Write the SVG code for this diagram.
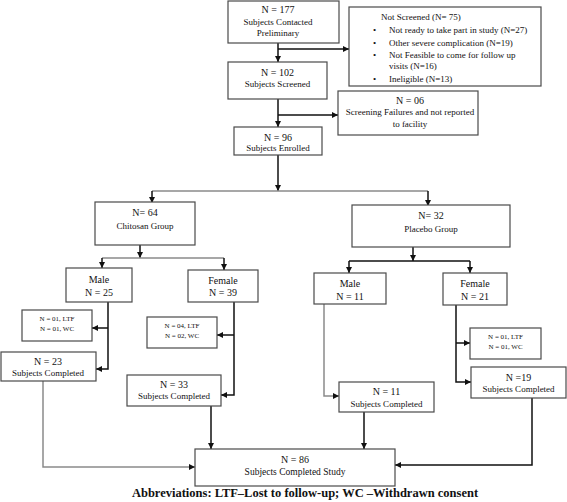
<svg xmlns="http://www.w3.org/2000/svg" width="567" height="502" viewBox="0 0 567 502">
<style>
.box{fill:#fff;stroke:#4a4a4a;stroke-width:1.2}
text{font-family:"Liberation Serif","Times New Roman",serif;fill:#111;text-anchor:middle}
.n{font-size:10px}
.s{font-size:9px}
.t{font-size:7px}
.l{text-anchor:start;font-size:9px}
.c{fill:none;stroke:#111;stroke-width:1.5}
.g{fill:none;stroke:#8a8a8a;stroke-width:1.5}
.ab{font-size:12.5px;font-weight:bold}
</style>
<defs>
<marker id="ah" markerUnits="userSpaceOnUse" markerWidth="7" markerHeight="7" refX="6" refY="3" orient="auto">
<path d="M0,0 L6,3 L0,6 z" fill="#111"/>
</marker>
</defs>
<g id="connectors">
<path class="c" d="M278,43 V62" marker-end="url(#ah)"/>
<path class="c" d="M278,49 H349" marker-end="url(#ah)"/>
<path class="c" d="M278,99 V127" marker-end="url(#ah)"/>
<path class="c" d="M278,115 H338" marker-end="url(#ah)"/>
<path class="c" d="M278,155 V191" marker-end="url(#ah)"/>
<path class="g" d="M152,191 H428"/>
<path class="c" d="M152,191 V203" marker-end="url(#ah)"/>
<path class="c" d="M428,191 V206" marker-end="url(#ah)"/>
<path class="c" d="M140,245 V258" marker-end="url(#ah)"/>
<path class="g" d="M102,258 H224"/>
<path class="c" d="M102,258 V268" marker-end="url(#ah)"/>
<path class="c" d="M224,258 V270" marker-end="url(#ah)"/>
<path class="c" d="M413,247 V261" marker-end="url(#ah)"/>
<path class="c" d="M349,261 H470"/>
<path class="c" d="M349,261 V273" marker-end="url(#ah)"/>
<path class="c" d="M470,261 V273" marker-end="url(#ah)"/>
<path class="c" d="M108,302 V369 H96" marker-end="url(#ah)"/>
<path class="c" d="M108,328 H92" marker-end="url(#ah)"/>
<path class="c" d="M234,302 V395 H221" marker-end="url(#ah)"/>
<path class="c" d="M234,335 H217" marker-end="url(#ah)"/>
<path class="g" d="M324,304 V396 H339" marker-end="url(#ah)"/>
<path class="c" d="M456,305 V382 H471" marker-end="url(#ah)"/>
<path class="c" d="M456,343 H470" marker-end="url(#ah)"/>
<path class="g" d="M43,381 V467 H195" marker-end="url(#ah)"/>
<path class="c" d="M211,406 V449" marker-end="url(#ah)"/>
<path class="c" d="M364,412 V449" marker-end="url(#ah)"/>
<path class="c" d="M532,398 V465 H395" marker-end="url(#ah)"/>
</g>
<g id="contacted">
<rect class="box" x="228" y="1" width="111" height="42"/>
<text class="n" x="278" y="12.5">N = 177</text>
<text class="s" x="278" y="24.5">Subjects Contacted</text>
<text class="s" x="278" y="36">Preliminary</text>
</g>
<g id="not-screened">
<rect class="box" x="349" y="7" width="192" height="79"/>
<text class="l" x="381" y="20">Not Screened (N= 75)</text>
<text class="l" x="373" y="33">•</text>
<text class="l" x="389" y="33">Not ready to take part in study (N=27)</text>
<text class="l" x="373" y="46">•</text>
<text class="l" x="389" y="46">Other severe complication (N=19)</text>
<text class="l" x="373" y="58">•</text>
<text class="l" x="389" y="58">Not Feasible to come for follow up</text>
<text class="l" x="389" y="69">visits (N=16)</text>
<text class="l" x="373" y="82">•</text>
<text class="l" x="389" y="82">Ineligible (N=13)</text>
</g>
<g id="screened">
<rect class="box" x="228" y="62" width="99" height="37"/>
<text class="n" x="277.5" y="75.5">N = 102</text>
<text class="s" x="277.5" y="86.5">Subjects Screened</text>
</g>
<g id="screen-fail">
<rect class="box" x="338" y="91" width="140" height="44"/>
<text class="n" x="410" y="103.5">N = 06</text>
<text class="s" x="410" y="115">Screening Failures and not reported</text>
<text class="s" x="410" y="126.5">to facility</text>
</g>
<g id="enrolled">
<rect class="box" x="234" y="127" width="88" height="28"/>
<text class="n" x="278" y="140.5">N = 96</text>
<text class="s" x="278" y="150.5">Subjects Enrolled</text>
</g>
<g id="chitosan">
<rect class="box" x="95" y="202" width="100" height="43"/>
<text class="n" x="145" y="215.5">N= 64</text>
<text class="s" x="145" y="228.5">Chitosan Group</text>
</g>
<g id="placebo">
<rect class="box" x="352" y="205" width="158" height="42"/>
<text class="n" x="431" y="218.5">N= 32</text>
<text class="s" x="431" y="231.5">Placebo Group</text>
</g>
<g id="c-male">
<rect class="box" x="66" y="268" width="66" height="34"/>
<text class="n" x="99" y="282.5">Male</text>
<text class="n" x="99" y="295.5">N = 25</text>
</g>
<g id="c-female">
<rect class="box" x="188" y="270" width="70" height="32"/>
<text class="n" x="223" y="283.5">Female</text>
<text class="n" x="223" y="295.5">N = 39</text>
</g>
<g id="c-male-loss">
<rect class="box" x="22" y="310" width="70" height="31"/>
<text class="t" x="57" y="320.5">N = 01, LTF</text>
<text class="t" x="57" y="330.5">N = 01, WC</text>
</g>
<g id="c-male-done">
<rect class="box" x="1" y="352" width="95" height="29"/>
<text class="n" x="48" y="364.5">N = 23</text>
<text class="s" x="48" y="375.5">Subjects Completed</text>
</g>
<g id="c-female-loss">
<rect class="box" x="147" y="317" width="70" height="31"/>
<text class="t" x="182" y="327.5">N = 04, LTF</text>
<text class="t" x="182" y="337.5">N = 02, WC</text>
</g>
<g id="c-female-done">
<rect class="box" x="127" y="375" width="94" height="31"/>
<text class="n" x="174" y="387.5">N = 33</text>
<text class="s" x="174" y="398.5">Subjects Completed</text>
</g>
<g id="p-male">
<rect class="box" x="314" y="273" width="72" height="31"/>
<text class="n" x="350" y="286.5">Male</text>
<text class="n" x="350" y="299.5">N = 11</text>
</g>
<g id="p-female">
<rect class="box" x="443" y="273" width="64" height="32"/>
<text class="n" x="475" y="286.5">Female</text>
<text class="n" x="475" y="299.5">N = 21</text>
</g>
<g id="p-female-loss">
<rect class="box" x="470" y="328" width="71" height="31"/>
<text class="t" x="505.5" y="338.5">N = 01, LTF</text>
<text class="t" x="505.5" y="348.5">N = 01, WC</text>
</g>
<g id="p-female-done">
<rect class="box" x="471" y="367" width="95" height="31"/>
<text class="n" x="518.5" y="380.5">N =19</text>
<text class="s" x="518.5" y="391.5">Subjects Completed</text>
</g>
<g id="p-male-done">
<rect class="box" x="339" y="382" width="95" height="30"/>
<text class="n" x="386.5" y="394.5">N = 11</text>
<text class="s" x="386.5" y="406.5">Subjects Completed</text>
</g>
<g id="final">
<rect class="box" x="195" y="449" width="200" height="37"/>
<text class="n" x="295" y="462.5">N = 86</text>
<text class="s" x="295" y="475" style="font-size:9.5px">Subjects Completed Study</text>
</g>
<text class="ab" x="305" y="497">Abbreviations: LTF–Lost to follow-up; WC –Withdrawn consent</text>
</svg>
